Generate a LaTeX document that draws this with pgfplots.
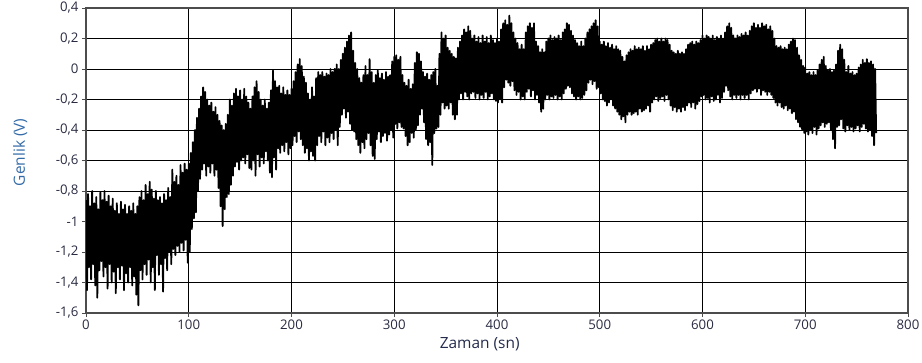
\documentclass[border=0pt]{standalone}
\usepackage{pgfplots}
\pgfplotsset{compat=1.18}
\usepackage{fontspec}
\setmainfont{Open Sans}
\definecolor{ticklab}{rgb}{0.16,0.17,0.26}
\definecolor{ylab}{rgb}{0.20,0.42,0.66}
\definecolor{xlab}{rgb}{0.14,0.17,0.30}
\begin{document}
\begin{tikzpicture}
\useasboundingbox (-86bp,-50bp) rectangle (836bp,313bp);
\begin{axis}[
  scale only axis,
  width=822bp, height=305bp,
  xmin=0, xmax=800, ymin=-1.6, ymax=0.4,
  xtick={0,100,200,300,400,500,600,700,800},
  ytick={-1.6,-1.4,-1.2,-1,-0.8,-0.6,-0.4,-0.2,0,0.2,0.4},
  /pgf/number format/use comma,
  /pgf/number format/assume math mode=true,
  tick label style={font=\fontsize{13.3}{15}\selectfont, text=ticklab},
  xticklabel style={yshift=1bp},
  xtick pos=bottom, ytick pos=left,
  tick align=outside,
  major tick length=4bp,
  tick style={draw=black!70, line width=0.8bp},
  grid=major,
  major grid style={draw=black, line width=0.8bp},
  axis line style={draw=black!70, line width=1.2bp},
  xlabel={Zaman (sn)},
  ylabel={Genlik (V)},
  xlabel style={font=\fontsize{15.5}{17}\selectfont, text=xlab, at={(axis description cs:0.479,-0.102)}, anchor=center},
  ylabel style={font=\fontsize{15.5}{17}\selectfont, text=ylab, at={(axis description cs:-0.080,0.527)}, anchor=center},
]
\addplot[black, line width=1.8bp, line join=round, mark=none] coordinates {
(0,-0.86) (1,-1.45) (2,-0.82) (3,-1.30) (4,-0.90) (5,-1.38) (6,-0.80) (7,-1.28) (8,-0.88) (9,-1.42)
(10,-0.84) (11,-1.50) (12,-0.92) (13,-1.32) (14,-0.81) (15,-1.26) (16,-0.86) (17,-1.36) (18,-0.80) (19,-1.30)
(20,-0.87) (21,-1.44) (22,-0.83) (23,-1.28) (24,-0.90) (25,-1.40) (26,-0.85) (27,-1.33) (28,-0.93) (29,-1.47)
(30,-0.88) (31,-1.30) (32,-0.95) (33,-1.38) (34,-0.87) (35,-1.29) (36,-0.92) (37,-1.45) (38,-0.89) (39,-1.34)
(40,-0.95) (41,-1.40) (42,-0.90) (43,-1.30) (44,-0.93) (45,-1.42) (46,-0.88) (47,-1.36) (48,-0.95) (49,-1.48)
(50,-0.90) (51,-1.55) (52,-0.84) (53,-1.32) (54,-0.80) (55,-1.38) (56,-0.86) (57,-1.28) (58,-0.76) (59,-1.35)
(60,-0.82) (61,-1.25) (62,-0.74) (63,-1.40) (64,-0.79) (65,-1.30) (66,-0.85) (67,-1.45) (68,-0.80) (69,-1.22)
(70,-0.86) (71,-1.35) (72,-0.84) (73,-1.28) (74,-0.88) (75,-1.46) (76,-0.82) (77,-1.24) (78,-0.86) (79,-1.32)
(80,-0.78) (81,-1.20) (82,-0.84) (83,-1.28) (84,-0.66) (85,-1.18) (86,-0.74) (87,-1.22) (88,-0.70) (89,-1.16)
(90,-0.76) (91,-1.20) (92,-0.63) (93,-1.14) (94,-0.68) (95,-1.19) (96,-0.62) (97,-1.12) (98,-0.66) (99,-1.27)
(100,-0.62) (101,-1.20) (102,-0.55) (103,-1.05) (104,-0.48) (105,-0.98) (106,-0.40) (107,-0.94) (108,-0.32) (109,-0.80)
(110,-0.26) (111,-0.72) (112,-0.18) (113,-0.66) (114,-0.12) (115,-0.62) (116,-0.15) (117,-0.70) (118,-0.20) (119,-0.64)
(120,-0.24) (121,-0.68) (122,-0.22) (123,-0.62) (124,-0.28) (125,-0.70) (126,-0.25) (127,-0.66) (128,-0.30) (129,-0.78)
(130,-0.34) (131,-0.90) (132,-0.37) (133,-1.03) (134,-0.40) (135,-0.92) (136,-0.36) (137,-0.84) (138,-0.30) (139,-0.82)
(140,-0.20) (141,-0.76) (142,-0.24) (143,-0.70) (144,-0.16) (145,-0.64) (146,-0.13) (147,-0.61) (148,-0.18) (149,-0.66)
(150,-0.14) (151,-0.60) (152,-0.20) (153,-0.58) (154,-0.13) (155,-0.62) (156,-0.18) (157,-0.56) (158,-0.22) (159,-0.65)
(160,-0.26) (161,-0.66) (162,-0.18) (163,-0.60) (164,-0.12) (165,-0.70) (166,-0.08) (167,-0.56) (168,-0.15) (169,-0.64)
(170,-0.20) (171,-0.58) (172,-0.24) (173,-0.62) (174,-0.20) (175,-0.54) (176,-0.26) (177,-0.60) (178,-0.22) (179,-0.68)
(180,-0.14) (181,-0.71) (182,-0.01) (183,-0.58) (184,-0.08) (185,-0.66) (186,-0.12) (187,-0.52) (188,-0.11) (189,-0.55)
(190,-0.16) (191,-0.50) (192,-0.12) (193,-0.54) (194,-0.17) (195,-0.48) (196,-0.14) (197,-0.56) (198,-0.17) (199,-0.52)
(200,-0.13) (201,-0.50) (202,-0.08) (203,-0.44) (204,-0.02) (205,-0.48) (206,0.03) (207,-0.41) (208,0.065) (209,-0.46)
(210,0.02) (211,-0.50) (212,-0.05) (213,-0.55) (214,-0.09) (215,-0.52) (216,-0.16) (217,-0.60) (218,-0.20) (219,-0.54)
(220,-0.12) (221,-0.57) (222,-0.18) (223,-0.60) (224,-0.06) (225,-0.50) (226,-0.02) (227,-0.44) (228,-0.04) (229,-0.48)
(230,-0.02) (231,-0.41) (232,-0.05) (233,-0.50) (234,-0.03) (235,-0.45) (236,-0.04) (237,-0.48) (238,0.00) (239,-0.42)
(240,-0.02) (241,-0.46) (242,0.00) (243,-0.40) (244,0.03) (245,-0.50) (246,0.00) (247,-0.38) (248,0.06) (249,-0.30)
(250,0.10) (251,-0.26) (252,0.14) (253,-0.32) (254,0.18) (255,-0.28) (256,0.22) (257,-0.36) (258,0.24) (259,-0.40)
(260,0.12) (261,-0.41) (262,0.04) (263,-0.46) (264,0.00) (265,-0.50) (266,-0.06) (267,-0.55) (268,-0.09) (269,-0.48)
(270,-0.04) (271,-0.52) (272,0.02) (273,-0.46) (274,-0.04) (275,-0.42) (276,0.065) (277,-0.50) (278,-0.02) (279,-0.57)
(280,-0.09) (281,-0.59) (282,-0.04) (283,-0.46) (284,-0.01) (285,-0.41) (286,-0.06) (287,-0.48) (288,-0.03) (289,-0.44)
(290,-0.07) (291,-0.42) (292,-0.02) (293,-0.47) (294,-0.05) (295,-0.43) (296,-0.04) (297,-0.40) (298,0.05) (299,-0.45)
(300,0.08) (301,-0.36) (302,0.09) (303,-0.39) (304,0.06) (305,-0.35) (306,0.08) (307,-0.38) (308,-0.04) (309,-0.39)
(310,-0.09) (311,-0.44) (312,-0.11) (313,-0.50) (314,-0.07) (315,-0.48) (316,-0.13) (317,-0.42) (318,-0.10) (319,-0.45)
(320,0.04) (321,-0.40) (322,0.11) (323,-0.37) (324,0.10) (325,-0.30) (326,0.05) (327,-0.26) (328,-0.02) (329,-0.35)
(330,-0.05) (331,-0.46) (332,-0.03) (333,-0.50) (334,-0.07) (335,-0.48) (336,-0.04) (337,-0.63) (338,-0.02) (339,-0.42)
(340,0.00) (341,-0.39) (342,-0.11) (343,-0.38) (344,0.10) (345,-0.30) (346,0.24) (347,-0.22) (348,0.20) (349,-0.26)
(350,0.22) (351,-0.24) (352,0.14) (353,-0.26) (354,0.12) (355,-0.22) (356,0.10) (357,-0.30) (358,0.08) (359,-0.33)
(360,0.07) (361,-0.30) (362,0.14) (363,-0.20) (364,0.18) (365,-0.16) (366,0.22) (367,-0.20) (368,0.26) (369,-0.15)
(370,0.24) (371,-0.18) (372,0.28) (373,-0.20) (374,0.25) (375,-0.16) (376,0.20) (377,-0.15) (378,0.22) (379,-0.19)
(380,0.18) (381,-0.16) (382,0.21) (383,-0.20) (384,0.17) (385,-0.17) (386,0.22) (387,-0.19) (388,0.18) (389,-0.15)
(390,0.21) (391,-0.20) (392,0.17) (393,-0.18) (394,0.22) (395,-0.16) (396,0.19) (397,-0.20) (398,0.17) (399,-0.21)
(400,0.20) (401,-0.22) (402,0.18) (403,-0.20) (404,0.26) (405,-0.22) (406,0.30) (407,-0.12) (408,0.32) (409,-0.07)
(410,0.29) (411,-0.09) (412,0.35) (413,-0.11) (414,0.30) (415,-0.08) (416,0.24) (417,-0.14) (418,0.20) (419,-0.17)
(420,0.17) (421,-0.15) (422,0.13) (423,-0.20) (424,0.16) (425,-0.18) (426,0.13) (427,-0.20) (428,0.24) (429,-0.15)
(430,0.28) (431,-0.13) (432,0.30) (433,-0.18) (434,0.27) (435,-0.14) (436,0.30) (437,-0.20) (438,0.18) (439,-0.17)
(440,0.15) (441,-0.22) (442,0.11) (443,-0.28) (444,0.13) (445,-0.26) (446,0.11) (447,-0.20) (448,0.18) (449,-0.17)
(450,0.20) (451,-0.20) (452,0.22) (453,-0.18) (454,0.19) (455,-0.19) (456,0.21) (457,-0.17) (458,0.20) (459,-0.20)
(460,0.22) (461,-0.18) (462,0.19) (463,-0.20) (464,0.24) (465,-0.16) (466,0.26) (467,-0.13) (468,0.30) (469,-0.11)
(470,0.29) (471,-0.12) (472,0.25) (473,-0.16) (474,0.22) (475,-0.18) (476,0.19) (477,-0.20) (478,0.17) (479,-0.18)
(480,0.15) (481,-0.20) (482,0.18) (483,-0.19) (484,0.15) (485,-0.17) (486,0.20) (487,-0.14) (488,0.24) (489,-0.09)
(490,0.26) (491,-0.07) (492,0.28) (493,-0.10) (494,0.30) (495,-0.08) (496,0.32) (497,-0.13) (498,0.28) (499,-0.12)
(500,0.18) (501,-0.16) (502,0.16) (503,-0.20) (504,0.18) (505,-0.21) (506,0.15) (507,-0.24) (508,0.17) (509,-0.22)
(510,0.14) (511,-0.20) (512,0.16) (513,-0.24) (514,0.13) (515,-0.26) (516,0.15) (517,-0.28) (518,0.13) (519,-0.30)
(520,0.12) (521,-0.33) (522,0.08) (523,-0.31) (524,0.05) (525,-0.35) (526,0.09) (527,-0.30) (528,0.11) (529,-0.28)
(530,0.13) (531,-0.30) (532,0.12) (533,-0.29) (534,0.15) (535,-0.28) (536,0.13) (537,-0.30) (538,0.14) (539,-0.26)
(540,0.13) (541,-0.28) (542,0.15) (543,-0.27) (544,0.12) (545,-0.26) (546,0.15) (547,-0.24) (548,0.13) (549,-0.28)
(550,0.16) (551,-0.22) (552,0.17) (553,-0.20) (554,0.19) (555,-0.18) (556,0.20) (557,-0.21) (558,0.18) (559,-0.19)
(560,0.20) (561,-0.18) (562,0.18) (563,-0.21) (564,0.20) (565,-0.17) (566,0.19) (567,-0.20) (568,0.16) (569,-0.24)
(570,0.12) (571,-0.27) (572,0.11) (573,-0.25) (574,0.10) (575,-0.28) (576,0.12) (577,-0.26) (578,0.10) (579,-0.28)
(580,0.11) (581,-0.25) (582,0.10) (583,-0.27) (584,0.13) (585,-0.24) (586,0.16) (587,-0.22) (588,0.17) (589,-0.25)
(590,0.18) (591,-0.22) (592,0.16) (593,-0.26) (594,0.18) (595,-0.23) (596,0.17) (597,-0.21) (598,0.19) (599,-0.18)
(600,0.22) (601,-0.17) (602,0.20) (603,-0.20) (604,0.22) (605,-0.19) (606,0.21) (607,-0.22) (608,0.20) (609,-0.18)
(610,0.22) (611,-0.21) (612,0.19) (613,-0.20) (614,0.21) (615,-0.17) (616,0.20) (617,-0.22) (618,0.22) (619,-0.19)
(620,0.20) (621,-0.15) (622,0.24) (623,-0.11) (624,0.28) (625,-0.14) (626,0.30) (627,-0.18) (628,0.27) (629,-0.20)
(630,0.22) (631,-0.17) (632,0.20) (633,-0.19) (634,0.22) (635,-0.17) (636,0.21) (637,-0.20) (638,0.23) (639,-0.17)
(640,0.22) (641,-0.19) (642,0.24) (643,-0.17) (644,0.22) (645,-0.20) (646,0.25) (647,-0.16) (648,0.28) (649,-0.14)
(650,0.30) (651,-0.13) (652,0.27) (653,-0.15) (654,0.29) (655,-0.13) (656,0.27) (657,-0.17) (658,0.30) (659,-0.14)
(660,0.28) (661,-0.15) (662,0.29) (663,-0.17) (664,0.26) (665,-0.15) (666,0.28) (667,-0.17) (668,0.25) (669,-0.19)
(670,0.20) (671,-0.22) (672,0.15) (673,-0.24) (674,0.14) (675,-0.22) (676,0.15) (677,-0.25) (678,0.13) (679,-0.26)
(680,0.14) (681,-0.24) (682,0.13) (683,-0.27) (684,0.16) (685,-0.26) (686,0.18) (687,-0.29) (688,0.20) (689,-0.28)
(690,0.19) (691,-0.33) (692,0.14) (693,-0.35) (694,0.09) (695,-0.38) (696,0.06) (697,-0.40) (698,0.02) (699,-0.42)
(700,0.01) (701,-0.41) (702,-0.03) (703,-0.43) (704,-0.02) (705,-0.40) (706,-0.04) (707,-0.42) (708,-0.02) (709,-0.38)
(710,-0.04) (711,-0.43) (712,-0.01) (713,-0.39) (714,0.03) (715,-0.37) (716,0.06) (717,-0.35) (718,0.08) (719,-0.38)
(720,0.02) (721,-0.36) (722,-0.01) (723,-0.35) (724,0.00) (725,-0.40) (726,-0.02) (727,-0.46) (728,-0.01) (729,-0.52)
(730,0.03) (731,-0.38) (732,0.12) (733,-0.37) (734,0.16) (735,-0.33) (736,0.13) (737,-0.39) (738,0.06) (739,-0.41)
(740,-0.02) (741,-0.37) (742,0.02) (743,-0.40) (744,-0.03) (745,-0.38) (746,-0.02) (747,-0.41) (748,-0.04) (749,-0.39)
(750,-0.03) (751,-0.37) (752,0.01) (753,-0.41) (754,0.03) (755,-0.38) (756,0.06) (757,-0.36) (758,0.04) (759,-0.39)
(760,0.065) (761,-0.41) (762,0.04) (763,-0.40) (764,0.05) (765,-0.44) (766,0.03) (767,-0.50) (768,0.00) (769,-0.42)
};
\end{axis}
\end{tikzpicture}
\end{document}
